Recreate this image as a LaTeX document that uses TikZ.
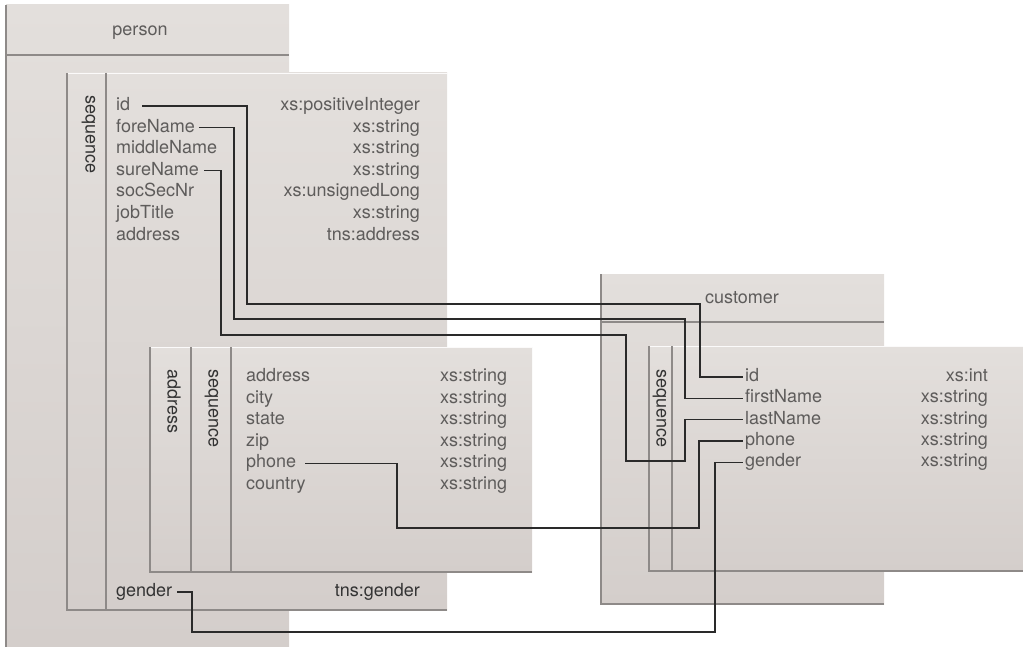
\documentclass[tikz,border=0pt]{standalone}
\usepackage{fontspec}
\setmainfont{TeX Gyre Heros}
\definecolor{boxtop}{HTML}{E3DFDC}
\definecolor{boxbot}{HTML}{D4CECB}
\definecolor{boxline}{HTML}{8E8A88}
\definecolor{fieldtxt}{HTML}{5E5C5B}
\definecolor{darktxt}{HTML}{333333}
\definecolor{linkc}{HTML}{2A2A2A}
\tikzset{
  panel/.style={top color=boxtop, bottom color=boxbot, draw=none},
  rule/.style={draw=boxline, line width=1.1pt},
  hilite/.style={draw=white!85!boxtop, line width=0.8pt},
  fld/.style={font=\fontsize{18}{20}\selectfont, text=fieldtxt, inner sep=0pt,
              text height=13pt, text depth=4pt},
  dfld/.style={fld, text=darktxt},
  vlbl/.style={fld, text=darktxt, rotate=-90, anchor=west},
  link/.style={draw=linkc, line width=1.3pt},
}
\begin{document}
\begin{tikzpicture}[x=1pt, y=-1pt]
\useasboundingbox (0,0) rectangle (1023,647);

% ---------- person element ----------
\fill[panel] (6,5) rectangle (289,647);
\draw[rule] (6,5) -- (6,647);
\draw[rule] (6,55) -- (289,55);
\node[fld, text=fieldtxt] (person) at (140,31) {person};

% person sequence
\fill[panel] (67,73) rectangle (447,610);
\draw[hilite] (67,73) -- (447,73);
\draw[rule] (67,73) -- (67,610) -- (447,610);
\draw[rule] (106,73) -- (106,610);
\node[vlbl] (pseq) at (90,95) {sequence};

\node[fld, anchor=west] (pid)     at (116,106.0) {id};
\node[fld, anchor=west] (pfore)   at (116,127.6) {foreName};
\node[fld, anchor=west] (pmiddle) at (116,149.2) {middleName};
\node[fld, anchor=west] (psure)   at (116,170.8) {sureName};
\node[fld, anchor=west] (psoc)    at (116,192.4) {socSecNr};
\node[fld, anchor=west] (pjob)    at (116,214.0) {jobTitle};
\node[fld, anchor=west] (paddr)   at (116,235.6) {address};

\node[fld, anchor=east] (tid)     at (420,106.0) {xs:positiveInteger};
\node[fld, anchor=east] (tfore)   at (420,127.6) {xs:string};
\node[fld, anchor=east] (tmiddle) at (420,149.2) {xs:string};
\node[fld, anchor=east] (tsure)   at (420,170.8) {xs:string};
\node[fld, anchor=east] (tsoc)    at (420,192.4) {xs:unsignedLong};
\node[fld, anchor=east] (tjob)    at (420,214.0) {xs:string};
\node[fld, anchor=east] (taddr)   at (420,235.6) {tns:address};

\node[dfld, anchor=west] (pgender) at (116,592) {gender};
\node[dfld, anchor=east] (tgender) at (420,592) {tns:gender};

% address complex type
\fill[panel] (150,347) rectangle (532,572);
\draw[hilite] (150,347) -- (532,347);
\draw[rule] (150,347) -- (150,572) -- (532,572);
\draw[rule] (191,347) -- (191,572);
\draw[rule] (231,347) -- (231,572);
\node[vlbl] (alabel) at (172,369) {address};
\node[vlbl] (aseq)   at (213,369) {sequence};

\node[fld, anchor=west] (aaddr)    at (246,377.0) {address};
\node[fld, anchor=west] (acity)    at (246,398.6) {city};
\node[fld, anchor=west] (astate)   at (246,420.2) {state};
\node[fld, anchor=west] (azip)     at (246,441.8) {zip};
\node[fld, anchor=west] (aphone)   at (246,463.4) {phone};
\node[fld, anchor=west] (acountry) at (246,485.0) {country};
\foreach \r/\yy in {1/377.0,2/398.6,3/420.2,4/441.8,5/463.4,6/485.0}
  \node[fld, anchor=west] (atype\r) at (440,\yy) {xs:string};

% ---------- customer element ----------
\fill[panel] (601,274) rectangle (884,604);
\draw[rule] (601,274) -- (601,604) -- (884,604);
\draw[rule] (601,322) -- (884,322);
\node[fld, anchor=west] (customer) at (705,299) {customer};

\fill[panel] (649,346) rectangle (1023,571);
\draw[hilite] (649,346) -- (1023,346);
\draw[rule] (649,346) -- (649,571) -- (1023,571);
\draw[rule] (672,346) -- (672,571);
\node[vlbl] (cseq) at (661,369) {sequence};

\node[fld, anchor=west] (cid)     at (745,377.0) {id};
\node[fld, anchor=west] (cfirst)  at (745,398.3) {firstName};
\node[fld, anchor=west] (clast)   at (745,419.6) {lastName};
\node[fld, anchor=west] (cphone)  at (745,440.9) {phone};
\node[fld, anchor=west] (cgender) at (745,462.2) {gender};

\node[fld, anchor=east] (ctid)     at (988,377.0) {xs:int};
\node[fld, anchor=east] (ctfirst)  at (988,398.3) {xs:string};
\node[fld, anchor=east] (ctlast)   at (988,419.6) {xs:string};
\node[fld, anchor=east] (ctphone)  at (988,440.9) {xs:string};
\node[fld, anchor=east] (ctgender) at (988,462.2) {xs:string};

% ---------- mappings ----------
\draw[link] ([xshift=12pt]pid.east) -| (247,304) -- (700,304)
            |- ([xshift=-2pt]cid.west);
\draw[link] ([xshift=4pt]pfore.east) -| (234,319) -- (685,319)
            |- ([xshift=-2pt]cfirst.west);
\draw[link] ([xshift=5pt]psure.east) -| (221,335) -- (626,335)
            -- (626,461) -- (685,461) |- ([xshift=-2pt]clast.west);
\draw[link] ([xshift=9pt]aphone.east) -| (397,528) -- (699,528)
            |- ([xshift=-2pt]cphone.west);
\draw[link] ([xshift=5pt]pgender.east) -| (192,632) -- (715,632)
            |- ([xshift=-2pt]cgender.west);
\end{tikzpicture}
\end{document}
